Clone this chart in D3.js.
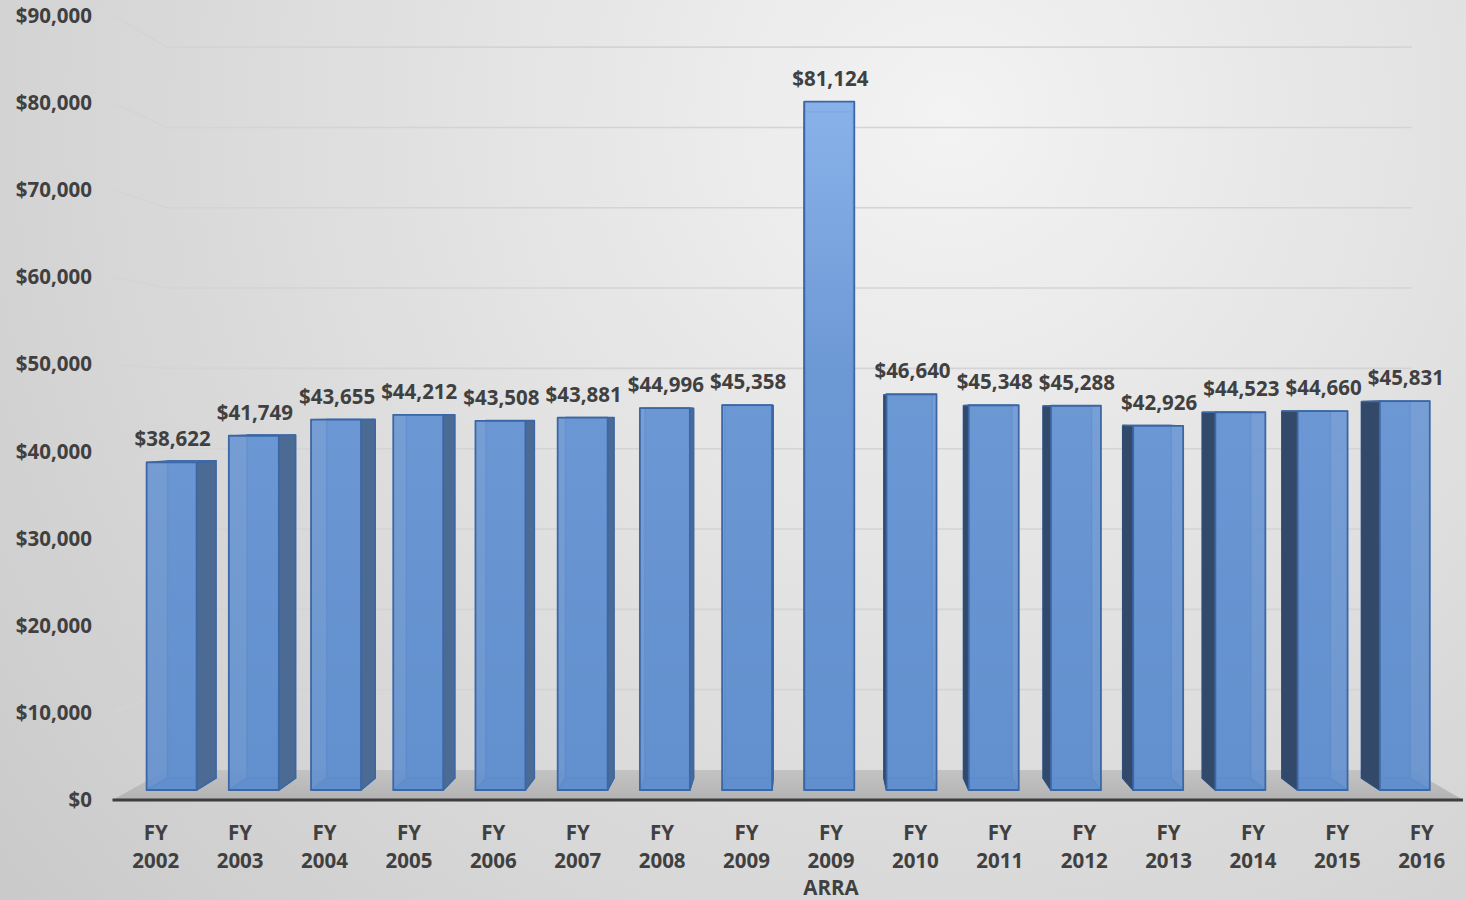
<!DOCTYPE html>
<html>
<head>
<meta charset="utf-8">
<script src="https://cdn.jsdelivr.net/npm/d3@7/dist/d3.min.js"></script>
<style>
  html, body { margin: 0; padding: 0; background: #dcdcdc; }
  svg { display: block; }
  text { font-family: "Open Sans", "Liberation Sans", sans-serif; font-weight: 700; fill: #404040; }
</style>
</head>
<body>
<svg id="chart" width="1466" height="900"></svg>
<script>
// ---- data ----
const categories = ["FY 2002", "FY 2003", "FY 2004", "FY 2005", "FY 2006", "FY 2007", "FY 2008", "FY 2009",
                    "FY 2009 ARRA", "FY 2010", "FY 2011", "FY 2012", "FY 2013", "FY 2014", "FY 2015", "FY 2016"];
const values = [38622, 41749, 43655, 44212, 43508, 43881, 44996, 45358,
                81124, 46640, 45348, 45288, 42926, 44523, 44660, 45831];
const yTicks = [0, 10000, 20000, 30000, 40000, 50000, 60000, 70000, 80000, 90000];

// ---- layout ----
const W = 1466, H = 900;
const svg = d3.select("#chart");
const fmt = d3.format("$,");

const x = d3.scaleBand().domain(categories).range([112.5, 1463]).paddingInner(0.392).paddingOuter(0.196);
const y = d3.scaleLinear().domain([0, 90000]).range([800, 16]);

// perspective projection (vanishing point + depth scale)
const VX = 805, VY = 415;
const S_WALL = 0.922, S_BAR_FRONT = 0.974, S_BAR_BACK = 0.943;
const P = (X, Y, s) => [VX + (X - VX) * s, VY + (Y - VY) * s];

const defs = svg.append("defs");
const bg = defs.append("radialGradient").attr("id", "bg")
  .attr("gradientUnits", "userSpaceOnUse").attr("cx", 950).attr("cy", 120).attr("r", 1250);
bg.append("stop").attr("offset", "0%").attr("stop-color", "#f3f3f3");
bg.append("stop").attr("offset", "100%").attr("stop-color", "#c9c9c9");

const fg = defs.append("linearGradient").attr("id", "front")
  .attr("gradientUnits", "userSpaceOnUse").attr("x1", 0).attr("y1", 95).attr("x2", 0).attr("y2", 790);
fg.append("stop").attr("offset", "0%").attr("stop-color", "#8ab3ea");
fg.append("stop").attr("offset", "40%").attr("stop-color", "#6c98d4");
fg.append("stop").attr("offset", "100%").attr("stop-color", "#6290ce");

const floorG = defs.append("linearGradient").attr("id", "floor")
  .attr("x1", 0).attr("y1", 0).attr("x2", 0).attr("y2", 1);
floorG.append("stop").attr("offset", "0%").attr("stop-color", "#c3c3c3");
floorG.append("stop").attr("offset", "100%").attr("stop-color", "#b3b3b3");

svg.append("rect").attr("width", W).attr("height", H).attr("fill", "url(#bg)");

const [xL, xR] = x.range();
const poly = pts => pts.map(p => p.join(",")).join(" ");

// floor
svg.append("polygon")
  .attr("points", poly([P(xL, y(0), 1), P(xL, y(0), S_WALL), P(xR, y(0), S_WALL), P(xR, y(0), 1)]))
  .attr("fill", "url(#floor)");

// gridlines: side wall diagonal + back wall horizontal
const grid = svg.append("g").attr("fill", "none").attr("stroke", "#d4d4d4").attr("stroke-width", 1.6);
yTicks.filter(v => v > 0).forEach(v => {
  const a = P(xL + 2, y(v), 1), b = P(xL, y(v), S_WALL), c = P(xR, y(v), S_WALL);
  grid.append("polyline").attr("points", poly([a, b, c]));
});

// bars (3D boxes)
const bars = svg.append("g");
categories.forEach((cat, i) => {
  const v = values[i];
  const X0 = x(cat), X1 = x(cat) + x.bandwidth();
  const Yt = y(v), Yb = y(0);
  const f = { tl: P(X0, Yt, S_BAR_FRONT), tr: P(X1, Yt, S_BAR_FRONT), bl: P(X0, Yb, S_BAR_FRONT), br: P(X1, Yb, S_BAR_FRONT) };
  const k = { tl: P(X0, Yt, S_BAR_BACK), tr: P(X1, Yt, S_BAR_BACK), bl: P(X0, Yb, S_BAR_BACK), br: P(X1, Yb, S_BAR_BACK) };
  const g = bars.append("g").attr("stroke-linejoin", "round");
  const edge = "#3c67a6";
  // back face
  g.append("polygon").attr("points", poly([k.tl, k.tr, k.br, k.bl]))
    .attr("fill", "url(#front)").attr("stroke", "#3a69aa").attr("stroke-width", 1.6);
  // bottom face
  g.append("polygon").attr("points", poly([f.bl, f.br, k.br, k.bl]))
    .attr("fill", "#5a88c6").attr("stroke", "#3a69aa").attr("stroke-width", 1.6);
  // visible side face
  const center = (X0 + X1) / 2;
  if (center < VX) {
    g.append("polygon").attr("points", poly([f.tr, k.tr, k.br, f.br]))
      .attr("fill", "#4b6b95").attr("stroke", edge).attr("stroke-width", 1.2);
  } else {
    g.append("polygon").attr("points", poly([f.tl, k.tl, k.bl, f.bl]))
      .attr("fill", "#33496a").attr("stroke", "#2f4c74").attr("stroke-width", 1.2);
  }
  // top face
  g.append("polygon").attr("points", poly([f.tl, f.tr, k.tr, k.tl]))
    .attr("fill", "#7fa8e0").attr("stroke", edge).attr("stroke-width", 1.2);
  // front face (semi-transparent so inner edges show)
  g.append("polygon").attr("points", poly([f.tl, f.tr, f.br, f.bl]))
    .attr("fill", "url(#front)").attr("fill-opacity", 0.9)
    .attr("stroke", edge).attr("stroke-width", 1.8);
});

// floor front edge
svg.append("line")
  .attr("x1", xL).attr("x2", xR).attr("y1", y(0)).attr("y2", y(0))
  .attr("stroke", "#3d3d3d").attr("stroke-width", 3.2);

// value labels
const labels = svg.append("g").attr("text-anchor", "middle").style("font-size", "20.5px");
categories.forEach((cat, i) => {
  const cx = x(cat) + x.bandwidth() / 2;
  const top = P(cx, y(values[i]), S_BAR_FRONT);
  labels.append("text").attr("x", top[0] + 1).attr("y", top[1] - 16).text(fmt(values[i]));
});

// y axis labels
const yax = svg.append("g").attr("text-anchor", "end").style("font-size", "20.5px");
yTicks.forEach(v => {
  yax.append("text").attr("x", 92).attr("y", y(v) + 7).text(fmt(v));
});

// x axis labels
const xax = svg.append("g").attr("text-anchor", "middle").style("font-size", "20.5px");
categories.forEach(cat => {
  const cx = x(cat) + x.bandwidth() / 2;
  const parts = cat.split(" ");
  parts.forEach((p, j) => {
    xax.append("text").attr("x", cx + 1).attr("y", 840 + j * 27.5).text(p);
  });
});
</script>
</body>
</html>
